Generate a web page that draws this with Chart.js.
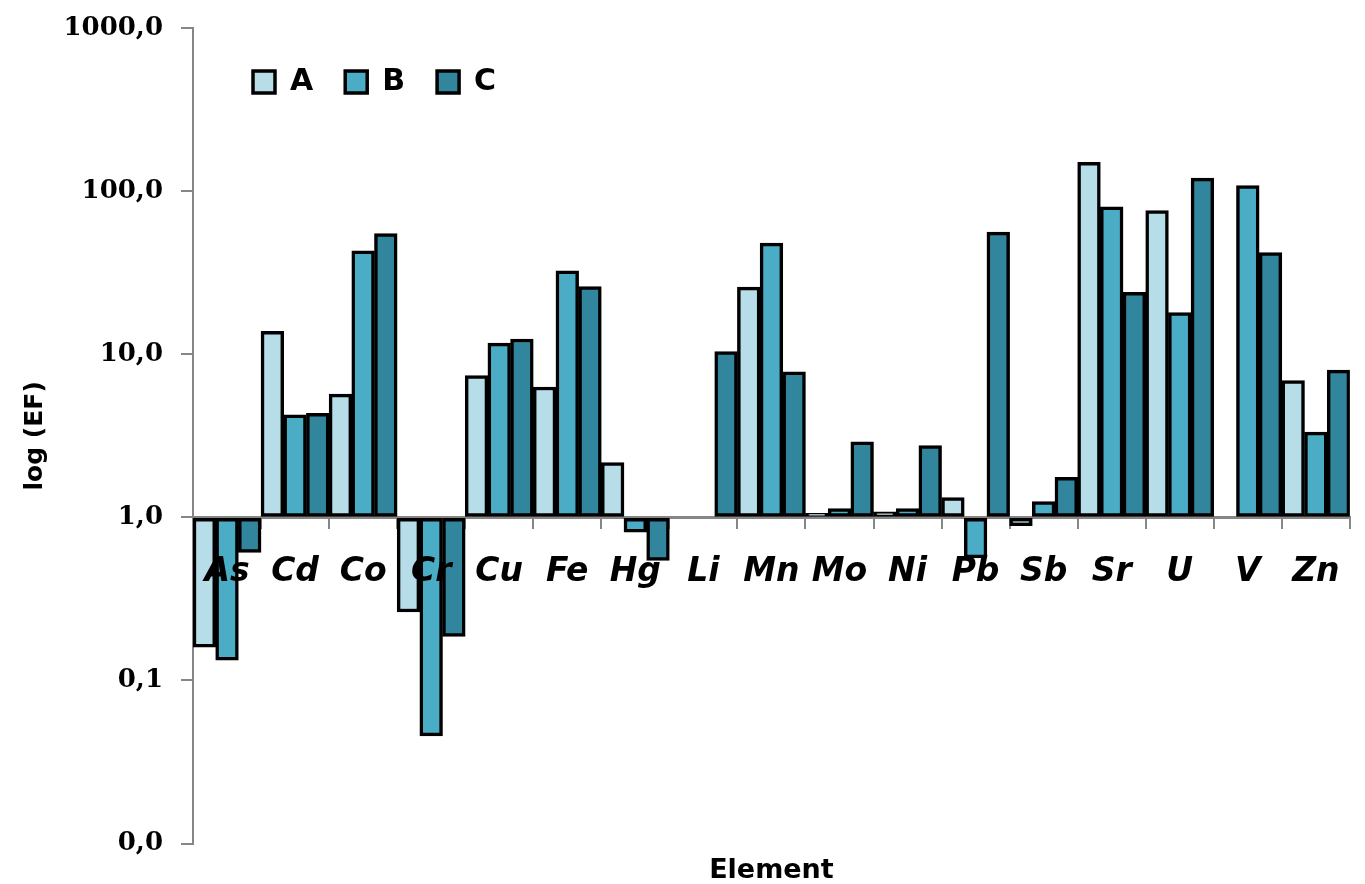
<!DOCTYPE html>
<html>
<head>
<meta charset="utf-8">
<title>log (EF) by element</title>
<script src="https://cdn.jsdelivr.net/npm/chart.js@4.4.1/dist/chart.umd.min.js"></script>
<style>
  html, body { margin: 0; padding: 0; background: #fff; }
  #wrap { width: 1365px; height: 884px; }
</style>
</head>
<body>
<div id="wrap"><canvas id="efChart"></canvas></div>
<script>
// Elements along the x axis
const elements = ['As', 'Cd', 'Co', 'Cr', 'Cu', 'Fe', 'Hg', 'Li', 'Mn', 'Mo', 'Ni', 'Pb', 'Sb', 'Sr', 'U', 'V', 'Zn'];

// Enrichment factor per sample (null = no bar)
const seriesA = [0.16, 13.8, 5.7, 0.263, 7.4, 6.3, 2.17, null, 25.8, 1.06, 1.08, 1.32, 0.89, 150, 76, null, 6.9];
const seriesB = [0.133, 4.25, 43, 0.0457, 11.7, 32.5, 0.81, null, 48, 1.13, 1.13, 0.565, 1.25, 80, 18, 108, 3.33];
const seriesC = [0.61, 4.35, 55, 0.186, 12.4, 26, 0.545, 10.4, 7.8, 2.9, 2.75, 56, 1.76, 24, 120, 42, 8.0];

// Decades shown on the y axis
const yTicks = [0.01, 0.1, 1, 10, 100, 1000];

// Colours
const colorA = '#B7DEE8';
const colorB = '#4BACC6';
const colorC = '#31859C';
const axisGrey = '#868686';

Chart.defaults.font.family = 'DejaVu Sans';
Chart.defaults.color = '#000';

// Legend sits inside the plot, in one row, a bit in from the axis
const legendInside = {
    id: 'legendInside',
    beforeLayout(chart) {
        if (chart.legend) chart.legend.isHorizontal = () => true;
    },
    afterLayout(chart) {
        if (!chart.legend) return;
        chart.legend.left = chart.chartArea.left + 28;
        chart.legend.top = chart.chartArea.top + 7;
    }
};

function barSet(label, values, color) {
    return {
        label: label,
        data: values,
        base: 1,
        backgroundColor: color,
        borderColor: '#000',
        borderWidth: 3.5,
        borderSkipped: false,
        categoryPercentage: 1.0,
        barPercentage: 1.0
    };
}

new Chart(document.getElementById('efChart'), {
    type: 'bar',
    data: {
        labels: elements,
        datasets: [
            barSet('A', seriesA, colorA),
            barSet('B', seriesB, colorB),
            barSet('C', seriesC, colorC)
        ]
    },
    options: {
        responsive: true,
        maintainAspectRatio: false,
        animation: false,
        layout: {
            padding: { top: 28, right: 0, bottom: 0, left: 0 }
        },
        plugins: {
            tooltip: { enabled: false },
            legend: {
                position: 'chartArea',
                fullSize: false,
                align: 'start',
                labels: {
                    boxWidth: 22,
                    boxHeight: 22,
                    padding: 32,
                    font: { size: 30, weight: 'bold' }
                }
            }
        },
        scales: {
            x: {
                position: { y: 1 },
                offset: true,
                border: { color: axisGrey, width: 3 },
                grid: {
                    offset: true,
                    drawOnChartArea: false,
                    color: axisGrey,
                    lineWidth: 2,
                    tickLength: 10
                },
                ticks: {
                    z: 1,   // element names are printed over the bars
                    autoSkip: false,
                    maxRotation: 0,
                    padding: 25,
                    font: { size: 33, weight: 'bold', style: 'italic' }
                }
            },
            xTitle: {
                type: 'category',
                position: 'bottom',
                border: { display: false },
                grid: { display: false, drawTicks: false },
                ticks: { display: false },
                title: {
                    display: true,
                    text: 'Element',
                    font: { size: 27, weight: 'bold' },
                    padding: { top: 11, bottom: -3 }
                }
            },
            y: {
                type: 'logarithmic',
                min: 0.01,
                max: 1000,
                afterBuildTicks: (scale) => {
                    scale.ticks = yTicks.map(v => ({ value: v }));
                },
                afterFit: (scale) => {
                    scale.width = 193;
                    scale.paddingTop = 0;
                    scale.paddingBottom = 0;
                },
                border: { color: axisGrey, width: 2 },
                grid: {
                    drawOnChartArea: false,
                    color: axisGrey,
                    lineWidth: 2,
                    tickLength: 12
                },
                ticks: {
                    padding: 18,
                    font: { family: 'DejaVu Serif', size: 26, weight: 'bold' },
                    callback: (value) => Number(value).toFixed(1).replace('.', ',')
                },
                title: {
                    display: true,
                    text: 'log (EF)',
                    font: { size: 25, weight: 'bold' },
                    padding: { top: 20, bottom: 0 }
                }
            }
        }
    },
    plugins: [legendInside]
});
</script>
</body>
</html>
